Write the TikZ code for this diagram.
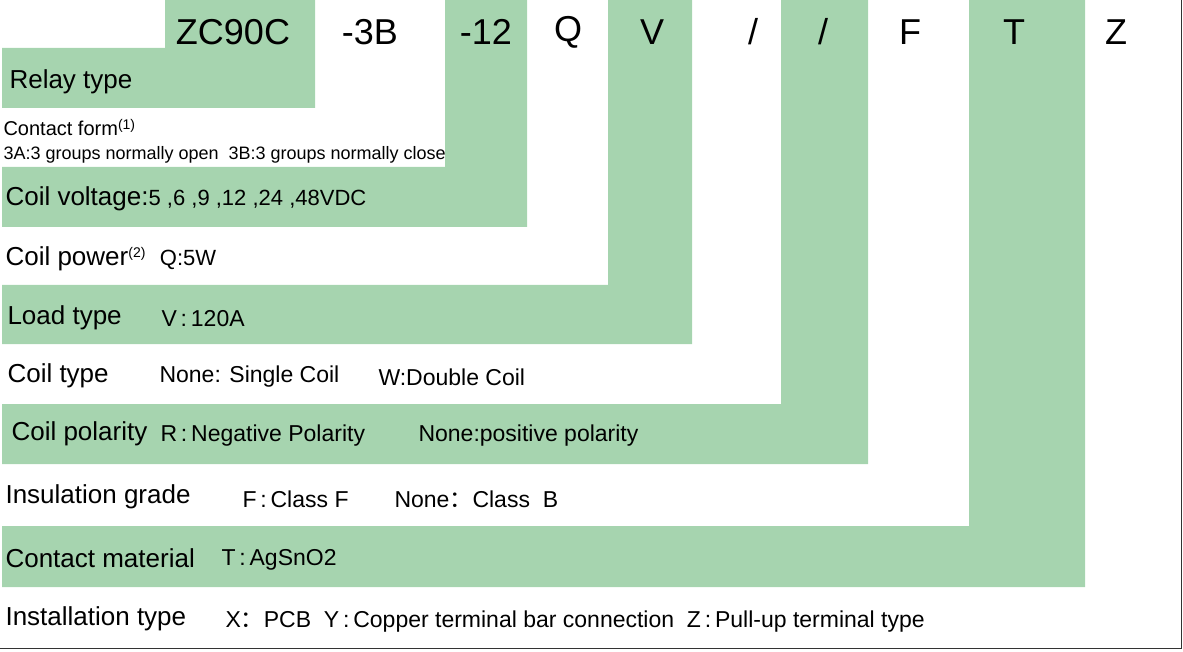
\documentclass[tikz,border=0pt]{standalone}
\usepackage{fontspec}
\setmainfont{Liberation Sans}
\newfontfamily\cjk{Noto Sans CJK SC}
\newcommand{\fc}{{\cjk ：}}
\newcommand{\nc}{\,:\,}
\definecolor{gr}{HTML}{A6D4AF}
\begin{document}
\begin{tikzpicture}[x=1pt,y=-1pt,
  code/.style={anchor=center,font=\fontsize{36}{38}\selectfont},
  lab/.style={anchor=west,font=\fontsize{26}{30}\selectfont},
  val/.style={anchor=west,font=\fontsize{23}{26}\selectfont},
  sm/.style={anchor=west,font=\fontsize{18}{20}\selectfont}]
\useasboundingbox (0,0) rectangle (1183,652);
\fill[gr] (165,0) -- (315,0) -- (315,108) -- (2,108) -- (2,48) -- (165,48) -- cycle;
\fill[gr] (445,0) -- (527,0) -- (527,227) -- (2,227) -- (2,167) -- (445,167) -- cycle;
\fill[gr] (608,0) -- (692,0) -- (692,344) -- (2,344) -- (2,285) -- (608,285) -- cycle;
\fill[gr] (781,0) -- (868,0) -- (868,464) -- (2,464) -- (2,404) -- (781,404) -- cycle;
\fill[gr] (969,0) -- (1085,0) -- (1085,587) -- (2,587) -- (2,526) -- (969,526) -- cycle;
\draw[line width=1pt,black!80] (0,648) -- (1181,648) -- (1181,0);
\foreach \t/\x [count=\i] in {ZC90C/233,-3B/370,-12/486,Q/568,V/652,{/}/753,{/}/823,F/910,T/1014,Z/1116}
  \node[code] (c\i) at (\x,32) {\t};
\node[lab] (r1) at (6,82) {Relay type};
\node[sm,font=\fontsize{20}{22}\selectfont] (r2) at (0,128) {Contact form\raisebox{6pt}{\fontsize{14}{14}\selectfont (1)}};
\node[sm] (r2b) at (0,155) {3A:3 groups normally open\ \ 3B:3 groups normally close};
\node[lab] (r3) at (2,199) {Coil voltage:\fontsize{22}{24}\selectfont 5 ,6 ,9 ,12 ,24 ,48VDC};
\node[lab] (r4) at (2,259) {Coil power\raisebox{8pt}{\fontsize{14}{14}\selectfont (2)}\ \ \fontsize{22}{24}\selectfont Q:5W};
\node[lab] (r5) at (4,318) {Load type};
\node[val] (r5b) at (158,319) {V\nc120A};
\node[lab] (r6) at (4,376) {Coil type};
\node[val] (r6b) at (156,377) {None: Single Coil};
\node[val] (r6c) at (375,377) {W:Double Coil};
\node[lab] (r7) at (8,434) {Coil polarity};
\node[val] (r7b) at (157,436) {R\nc Negative Polarity};
\node[val] (r7c) at (415,436) {None:positive polarity};
\node[lab] (r8) at (2,497) {Insulation grade};
\node[val] (r8b) at (239,499) {F\nc Class F};
\node[val] (r8c) at (391,499) {None\fc Class\ \ B};
\node[lab] (r9) at (2,558) {Contact material};
\node[val] (r9b) at (218,560) {T\nc AgSnO2};
\node[lab] (r10) at (2,619) {Installation type};
\node[val] (r10b) at (222,622) {X\fc PCB\ \ Y\nc Copper terminal bar connection\ \ Z\nc Pull-up terminal type};
\end{tikzpicture}
\end{document}
